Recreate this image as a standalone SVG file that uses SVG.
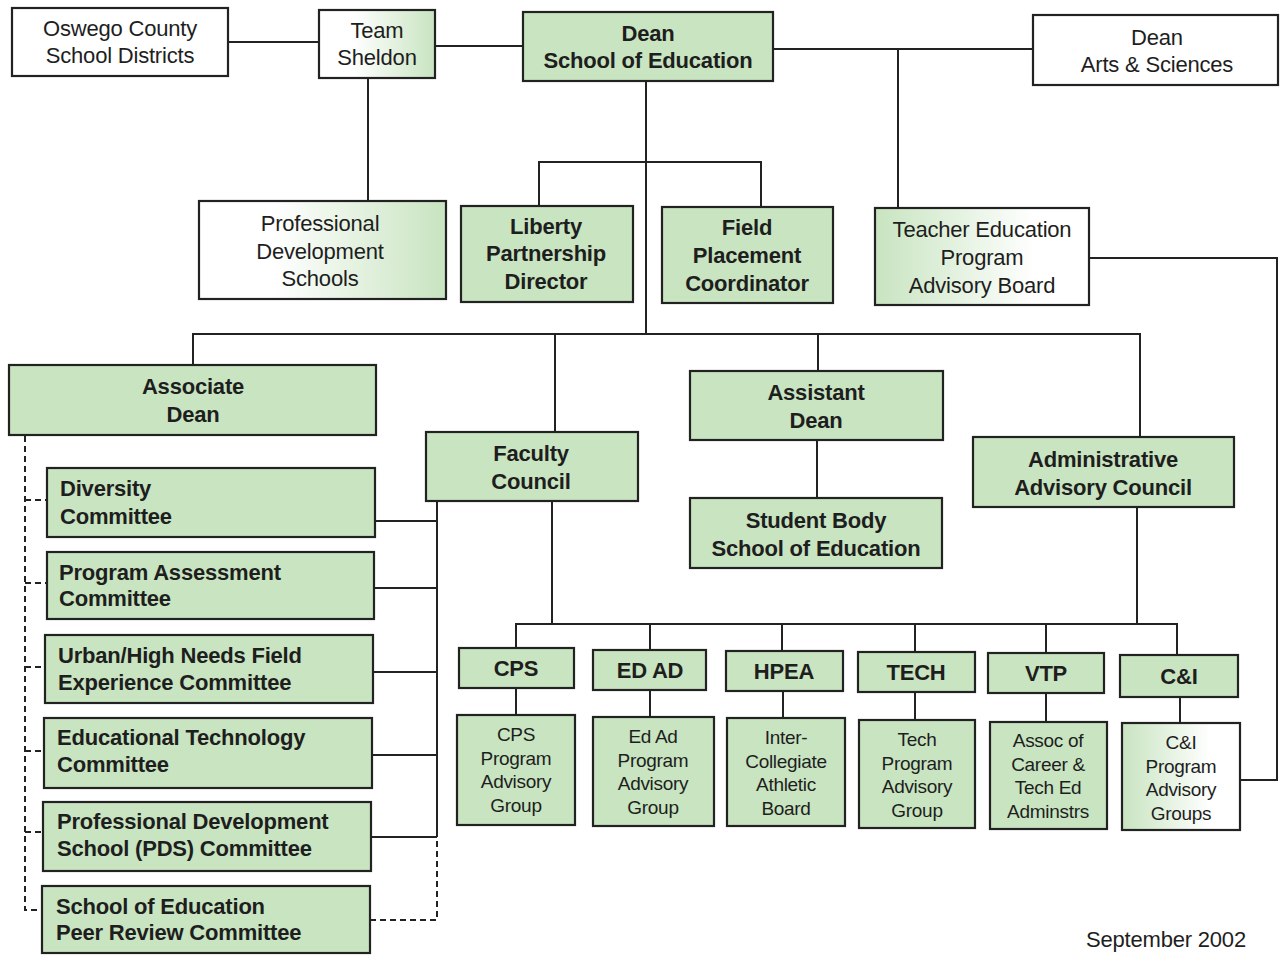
<svg xmlns="http://www.w3.org/2000/svg" width="1283" height="956" viewBox="0 0 1283 956">
<style>
.g{fill:#c8e4c0;stroke:#222;stroke-width:2.2}
.w{fill:#fff;stroke:#222;stroke-width:2.2}
.gl{fill:url(#gl);stroke:#222;stroke-width:2.2}
.gr{fill:url(#gr);stroke:#222;stroke-width:2.2}
.b{font-family:"Liberation Sans",Arial,sans-serif;font-weight:bold;font-size:22px;fill:#1e1e1e;text-anchor:middle;letter-spacing:-0.2px}
.bl{font-family:"Liberation Sans",Arial,sans-serif;font-weight:bold;font-size:22px;fill:#1e1e1e;letter-spacing:-0.2px}
.r{font-family:"Liberation Sans",Arial,sans-serif;font-size:22px;fill:#1e1e1e;text-anchor:middle;letter-spacing:-0.2px}
.s{font-family:"Liberation Sans",Arial,sans-serif;font-size:19px;fill:#1e1e1e;text-anchor:middle;letter-spacing:-0.3px}
.c{fill:none;stroke:#222;stroke-width:2}
.d{fill:none;stroke:#222;stroke-width:2;stroke-dasharray:6,4}
</style>
<defs>
<linearGradient id="gl" x1="0" y1="0" x2="1" y2="0"><stop offset="0.3" stop-color="#fff"/><stop offset="1" stop-color="#c8e4c0"/></linearGradient>
<linearGradient id="gr" x1="0" y1="0" x2="1" y2="0"><stop offset="0" stop-color="#c8e4c0"/><stop offset="0.75" stop-color="#fff"/></linearGradient>
</defs>
<rect width="1283" height="956" fill="#fff"/>
<g id="connectors">
<path class="c" d="M228,42H319"/>
<path class="c" d="M435,46H523"/>
<path class="c" d="M773,49H1033"/>
<path class="c" d="M898,49V208"/>
<path class="c" d="M368,78V201"/>
<path class="c" d="M646,81V334"/>
<path class="c" d="M539,206V162H761V207"/>
<path class="c" d="M193,365V334H1140V437"/>
<path class="c" d="M555,334V432"/>
<path class="c" d="M818,334V371"/>
<path class="c" d="M817,440V498"/>
<path class="c" d="M437,501V837"/>
<path class="c" d="M375,521H437M374,588H437M373,672H437M372,755H437M371,837H437"/>
<path class="d" d="M370,920H437V837"/>
<path class="c" d="M552,501V624"/>
<path class="c" d="M1137,507V624"/>
<path class="c" d="M516,648V624H1177V655"/>
<path class="c" d="M650,624V650M782,624V651M915,624V652M1046,624V653"/>
<path class="c" d="M516,688V715M650,690V717M783,691V718M915,692V720M1046,693V722M1180,697V723"/>
<path class="c" d="M1089,258H1277V780H1240"/>
<path class="d" d="M25,436V910H42M25,500H47M25,583H47M25,667H45M25,751H44M25,832H43"/>
</g>
<g id="oswego"><rect class="w" x="12" y="8" width="216" height="68"/><text class="r" x="120" y="36">Oswego County</text><text class="r" x="120" y="63">School Districts</text></g>
<g id="team-sheldon"><rect class="gl" x="319" y="10" width="116" height="68"/><text class="r" x="377" y="38">Team</text><text class="r" x="377" y="65">Sheldon</text></g>
<g id="dean-soe"><rect class="g" x="523" y="12" width="250" height="69"/><text class="b" x="648" y="41">Dean</text><text class="b" x="648" y="68">School of Education</text></g>
<g id="dean-as"><rect class="w" x="1033" y="15" width="245" height="70"/><text class="r" x="1157" y="45">Dean</text><text class="r" x="1157" y="72">Arts &amp; Sciences</text></g>
<g id="pds"><rect class="gl" x="199" y="201" width="247" height="98"/><text class="r" x="320" y="231">Professional</text><text class="r" x="320" y="259">Development</text><text class="r" x="320" y="286">Schools</text></g>
<g id="liberty"><rect class="g" x="461" y="206" width="172" height="96"/><text class="b" x="546" y="234">Liberty</text><text class="b" x="546" y="261">Partnership</text><text class="b" x="546" y="289">Director</text></g>
<g id="field"><rect class="g" x="662" y="207" width="171" height="96"/><text class="b" x="747" y="235">Field</text><text class="b" x="747" y="263">Placement</text><text class="b" x="747" y="291">Coordinator</text></g>
<g id="tepab"><rect class="gr" x="875" y="208" width="214" height="97"/><text class="r" x="982" y="237">Teacher Education</text><text class="r" x="982" y="265">Program</text><text class="r" x="982" y="293">Advisory Board</text></g>
<g id="assoc-dean"><rect class="g" x="9" y="365" width="367" height="70"/><text class="b" x="193" y="394">Associate</text><text class="b" x="193" y="422">Dean</text></g>
<g id="faculty"><rect class="g" x="426" y="432" width="212" height="69"/><text class="b" x="531" y="461">Faculty</text><text class="b" x="531" y="489">Council</text></g>
<g id="asst-dean"><rect class="g" x="690" y="371" width="253" height="69"/><text class="b" x="816" y="400">Assistant</text><text class="b" x="816" y="428">Dean</text></g>
<g id="student-body"><rect class="g" x="690" y="498" width="252" height="70"/><text class="b" x="816" y="528">Student Body</text><text class="b" x="816" y="556">School of Education</text></g>
<g id="admin-advisory"><rect class="g" x="973" y="437" width="261" height="70"/><text class="b" x="1103" y="467">Administrative</text><text class="b" x="1103" y="495">Advisory Council</text></g>
<g id="diversity"><rect class="g" x="47" y="468" width="328" height="69"/><text class="bl" x="60" y="496">Diversity</text><text class="bl" x="60" y="524">Committee</text></g>
<g id="program-assessment"><rect class="g" x="47" y="552" width="327" height="67"/><text class="bl" x="59" y="580">Program Assessment</text><text class="bl" x="59" y="606">Committee</text></g>
<g id="urban"><rect class="g" x="45" y="635" width="328" height="68"/><text class="bl" x="58" y="663">Urban/High Needs Field</text><text class="bl" x="58" y="690">Experience Committee</text></g>
<g id="edtech"><rect class="g" x="44" y="718" width="328" height="70"/><text class="bl" x="57" y="745">Educational Technology</text><text class="bl" x="57" y="772">Committee</text></g>
<g id="pds-committee"><rect class="g" x="43" y="802" width="328" height="69"/><text class="bl" x="57" y="829">Professional Development</text><text class="bl" x="57" y="856">School (PDS) Committee</text></g>
<g id="peer-review"><rect class="g" x="42" y="886" width="328" height="67"/><text class="bl" x="56" y="914">School of Education</text><text class="bl" x="56" y="940">Peer Review Committee</text></g>
<g id="cps"><rect class="g" x="459" y="648" width="115" height="40"/><text class="b" x="516" y="676">CPS</text></g>
<g id="edad"><rect class="g" x="593" y="650" width="113" height="40"/><text class="b" x="650" y="678">ED AD</text></g>
<g id="hpea"><rect class="g" x="726" y="651" width="117" height="40"/><text class="b" x="784" y="679">HPEA</text></g>
<g id="tech"><rect class="g" x="858" y="652" width="117" height="40"/><text class="b" x="916" y="680">TECH</text></g>
<g id="vtp"><rect class="g" x="988" y="653" width="116" height="40"/><text class="b" x="1046" y="681">VTP</text></g>
<g id="ci"><rect class="g" x="1120" y="655" width="118" height="42"/><text class="b" x="1179" y="684">C&amp;I</text></g>
<g id="cps-group"><rect class="g" x="457" y="715" width="118" height="110"/><text class="s" x="516" y="741">CPS</text><text class="s" x="516" y="765">Program</text><text class="s" x="516" y="788">Advisory</text><text class="s" x="516" y="812">Group</text></g>
<g id="edad-group"><rect class="g" x="593" y="717" width="121" height="109"/><text class="s" x="653" y="743">Ed Ad</text><text class="s" x="653" y="767">Program</text><text class="s" x="653" y="790">Advisory</text><text class="s" x="653" y="814">Group</text></g>
<g id="athletic"><rect class="g" x="727" y="718" width="118" height="108"/><text class="s" x="786" y="744">Inter-</text><text class="s" x="786" y="768">Collegiate</text><text class="s" x="786" y="791">Athletic</text><text class="s" x="786" y="815">Board</text></g>
<g id="tech-group"><rect class="g" x="859" y="720" width="116" height="108"/><text class="s" x="917" y="746">Tech</text><text class="s" x="917" y="770">Program</text><text class="s" x="917" y="793">Advisory</text><text class="s" x="917" y="817">Group</text></g>
<g id="assoc-career"><rect class="g" x="990" y="722" width="117" height="107"/><text class="s" x="1048" y="747">Assoc of</text><text class="s" x="1048" y="771">Career &amp;</text><text class="s" x="1048" y="794">Tech Ed</text><text class="s" x="1048" y="818">Adminstrs</text></g>
<g id="ci-groups"><rect class="gr" x="1122" y="723" width="118" height="107"/><text class="s" x="1181" y="749">C&amp;I</text><text class="s" x="1181" y="773">Program</text><text class="s" x="1181" y="796">Advisory</text><text class="s" x="1181" y="820">Groups</text></g>
<text class="r" x="1166" y="947">September 2002</text>
</svg>
